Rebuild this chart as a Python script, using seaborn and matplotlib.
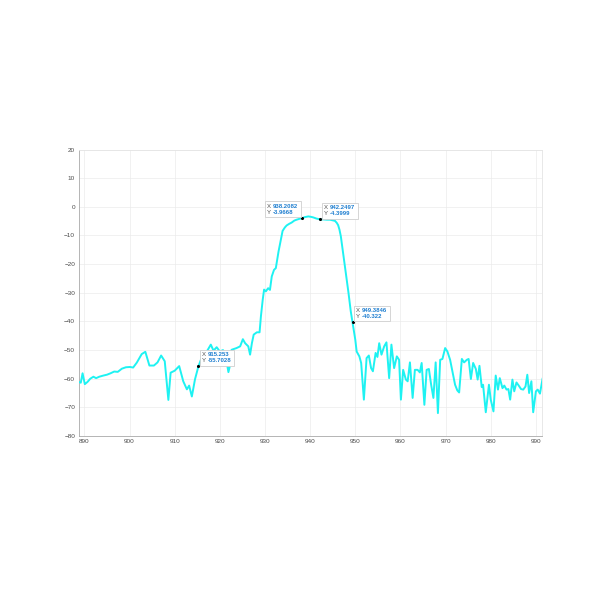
import matplotlib
matplotlib.use("Agg")
import matplotlib.pyplot as plt
from matplotlib.patches import Rectangle
from matplotlib.transforms import IdentityTransform
import pandas as pd
import seaborn as sns

# spectrum trace (MHz, dB)
freq = [
    888.7, 889.2, 889.6, 890.1, 890.7, 891.3, 892.0, 892.6, 893.3, 894.2,
    895.0, 895.8, 896.6, 897.4, 898.3, 899.2, 900.1, 900.8, 901.6, 902.7,
    903.5, 904.4, 905.4, 906.2, 907.0, 907.8, 908.6, 909.1, 910.0, 911.0,
    911.9, 912.7, 913.2, 913.8, 914.5, 915.253, 915.9, 916.6, 917.3, 918.0,
    918.6, 919.3, 920.0, 920.7, 921.3, 921.9, 922.3, 922.6, 923.7, 924.5,
    925.1, 925.6, 926.3, 926.7, 927.1, 927.5, 928.2, 928.8, 929.1, 929.5,
    929.8, 930.2, 930.7, 931.1, 931.5, 932.0, 932.4, 932.7, 933.0, 933.5,
    933.9, 934.4, 934.8, 935.4, 935.9, 936.5, 937.0, 937.6, 938.2082, 938.8,
    939.6, 940.2, 940.7, 941.4, 942.2497, 943.0, 943.7, 944.4, 945.0, 945.5,
    945.9, 946.2, 946.5, 946.8, 947.3, 947.9, 948.5, 949.0, 949.3846, 950.0,
    950.3, 950.9, 951.3, 951.9, 952.5, 953.0, 953.5, 953.9, 954.5, 954.9,
    955.3, 955.8, 956.4, 956.9, 957.5, 958.0, 958.6, 959.2, 959.7, 960.1,
    960.6, 961.2, 961.6, 962.1, 962.7, 963.2, 963.8, 964.3, 964.7, 965.3,
    965.8, 966.3, 966.8, 967.3, 967.8, 968.3, 968.8, 969.3, 969.9, 970.4,
    971.0, 971.5, 972.1, 972.6, 973.0, 973.6, 974.1, 974.7, 975.1, 975.6,
    976.1, 976.7, 977.1, 977.5, 978.0, 978.3, 978.9, 979.6, 980.0, 980.6,
    981.1, 981.6, 982.0, 982.6, 983.0, 983.5, 983.9, 984.3, 984.8, 985.2,
    985.7, 986.2, 986.7, 987.2, 987.7, 988.1, 988.5, 989.0, 989.4, 990.0,
    990.4, 990.9, 991.5,
]
power = [
    -61.1, -61.4, -58.1, -61.9, -61.1, -60.0, -59.3, -59.8, -59.3, -58.9,
    -58.6, -58.1, -57.5, -57.6, -56.5, -56.0, -55.9, -56.1, -54.4, -51.4,
    -50.6, -55.4, -55.4, -54.3, -51.9, -53.9, -67.4, -57.9, -57.2, -55.6,
    -60.9, -63.7, -62.4, -66.2, -60.2, -55.7028, -53.0, -51.5, -50.0, -48.1,
    -50.2, -49.0, -50.5, -50.0, -52.0, -57.7, -55.0, -49.9, -49.3, -48.7,
    -46.2, -47.6, -48.7, -51.6, -47.6, -44.6, -43.8, -43.8, -38.2, -32.4,
    -28.9, -29.5, -28.4, -29.0, -24.3, -22.0, -21.4, -18.5, -15.6, -11.5,
    -8.4, -7.2, -6.5, -5.9, -5.5, -4.8, -4.5, -4.2, -3.9668, -3.6,
    -3.35, -3.5, -3.7, -4.1, -4.3999, -4.4, -4.5, -4.5, -4.7, -4.9,
    -5.6, -6.4, -8.0, -10.3, -16.1, -23.1, -30.1, -36.5, -40.322, -46.4,
    -50.5, -52.2, -54.5, -67.3, -52.8, -51.9, -56.3, -57.4, -51.0, -52.4,
    -47.6, -51.6, -48.7, -47.3, -59.8, -48.1, -56.3, -52.2, -53.4, -67.3,
    -56.9, -60.3, -60.9, -54.3, -66.7, -56.9, -56.9, -57.8, -54.5, -69.1,
    -56.9, -56.6, -62.1, -66.7, -54.3, -72.0, -53.4, -53.1, -49.3, -50.5,
    -53.4, -57.4, -62.1, -64.1, -64.8, -53.1, -54.3, -53.4, -53.1, -60.1,
    -54.5, -56.6, -60.3, -55.5, -62.9, -62.1, -71.7, -62.1, -67.3, -71.4,
    -58.9, -63.8, -59.8, -63.3, -62.4, -63.8, -63.6, -67.3, -60.3, -64.4,
    -61.3, -62.4, -63.6, -63.8, -62.7, -58.6, -65.0, -60.9, -71.7, -64.4,
    -63.8, -65.2, -59.8,
]

# data tips
tip_x = [915.253, 938.2082, 942.2497, 949.3846]
tip_y = [-55.7028, -3.9668, -4.3999, -40.322]
tip_xlabel = ["915.253", "938.2082", "942.2497", "949.3846"]
tip_ylabel = ["-55.7028", "-3.9668", "-4.3999", "-40.322"]
tip_side = ["right", "left", "right", "right"]

x_ticks = [890, 900, 910, 920, 930, 940, 950, 960, 970, 980, 990]
y_ticks = [-80, -70, -60, -50, -40, -30, -20, -10, 0, 10, 20]

sns.set_theme(style="whitegrid")
plt.rcParams['font.family'] = ['Liberation Sans', 'DejaVu Sans']

fig = plt.figure(figsize=(6, 6), dpi=100)
ax = fig.add_axes([0.131, 0.2733, 0.773, 0.4775])
ax.set_facecolor('white')

df = pd.DataFrame({'Frequency': freq, 'Power': power})
sns.lineplot(data=df, x='Frequency', y='Power', color='#1ef2f2', linewidth=1.4,
             estimator=None, sort=False, ax=ax, zorder=3)

ax.set_xlim(888.72, 991.44)
ax.set_ylim(-80, 20)
ax.set_xticks(x_ticks)
ax.set_yticks(y_ticks)
ax.set_xlabel('')
ax.set_ylabel('')
ax.grid(True, color='#ebebeb', linewidth=0.5)
ax.tick_params(direction='in', length=2, width=0.5, colors='#9a9a9a',
               labelcolor='#4a4a4a', labelsize=4.6, pad=2.5)
for side in ['left', 'bottom']:
    ax.spines[side].set_color('#a8a8a8')
    ax.spines[side].set_linewidth(0.6)
for side in ['top', 'right']:
    ax.spines[side].set_color('#e4e4e4')
    ax.spines[side].set_linewidth(0.6)

# data tip markers
sns.scatterplot(x=tip_x, y=tip_y, color='black', s=5, linewidth=0, ax=ax, zorder=6)

# data tip labels: gray "X/Y" + blue bold values, boxed afterwards
fs = 4.3
prefix = 1.02 * fs  # width of "X " in points
pairs = []
for tx, ty, lx, ly, side in zip(tip_x, tip_y, tip_xlabel, tip_ylabel, tip_side):
    if side == 'right':
        vals = ax.annotate(f"{lx}\n{ly}", xy=(tx, ty), xytext=(2.6 + prefix, 2.3),
                           textcoords='offset points', ha='left', va='bottom',
                           multialignment='left', fontsize=fs, fontweight='bold',
                           color='#1f7fd0', linespacing=1.3, zorder=8)
    else:
        vals = ax.annotate(f"{lx}\n{ly}", xy=(tx, ty), xytext=(-2.6, 2.3),
                           textcoords='offset points', ha='right', va='bottom',
                           multialignment='left', fontsize=fs, fontweight='bold',
                           color='#1f7fd0', linespacing=1.3, zorder=8)
    lab = ax.annotate("X\nY", xy=(0, 0), xycoords=vals, xytext=(-prefix, 0),
                      textcoords='offset points', ha='left', va='bottom',
                      fontsize=fs, color='#505050', linespacing=1.3, zorder=8)
    pairs.append((lab, vals))

fig.canvas.draw()
renderer = fig.canvas.get_renderer()
pad = 2.3
for lab, vals in pairs:
    b1 = lab.get_window_extent(renderer)
    b2 = vals.get_window_extent(renderer)
    x0 = min(b1.x0, b2.x0) - pad
    y0 = min(b1.y0, b2.y0) - pad
    x1 = max(b1.x1, b2.x1) + pad
    y1 = max(b1.y1, b2.y1) + pad
    ax.add_patch(Rectangle((x0, y0), x1 - x0, y1 - y0, transform=IdentityTransform(),
                           facecolor='white', edgecolor='#cfcfcf', linewidth=0.6,
                           zorder=7, clip_on=False))

fig.savefig('out.png', dpi=100, facecolor='white')
